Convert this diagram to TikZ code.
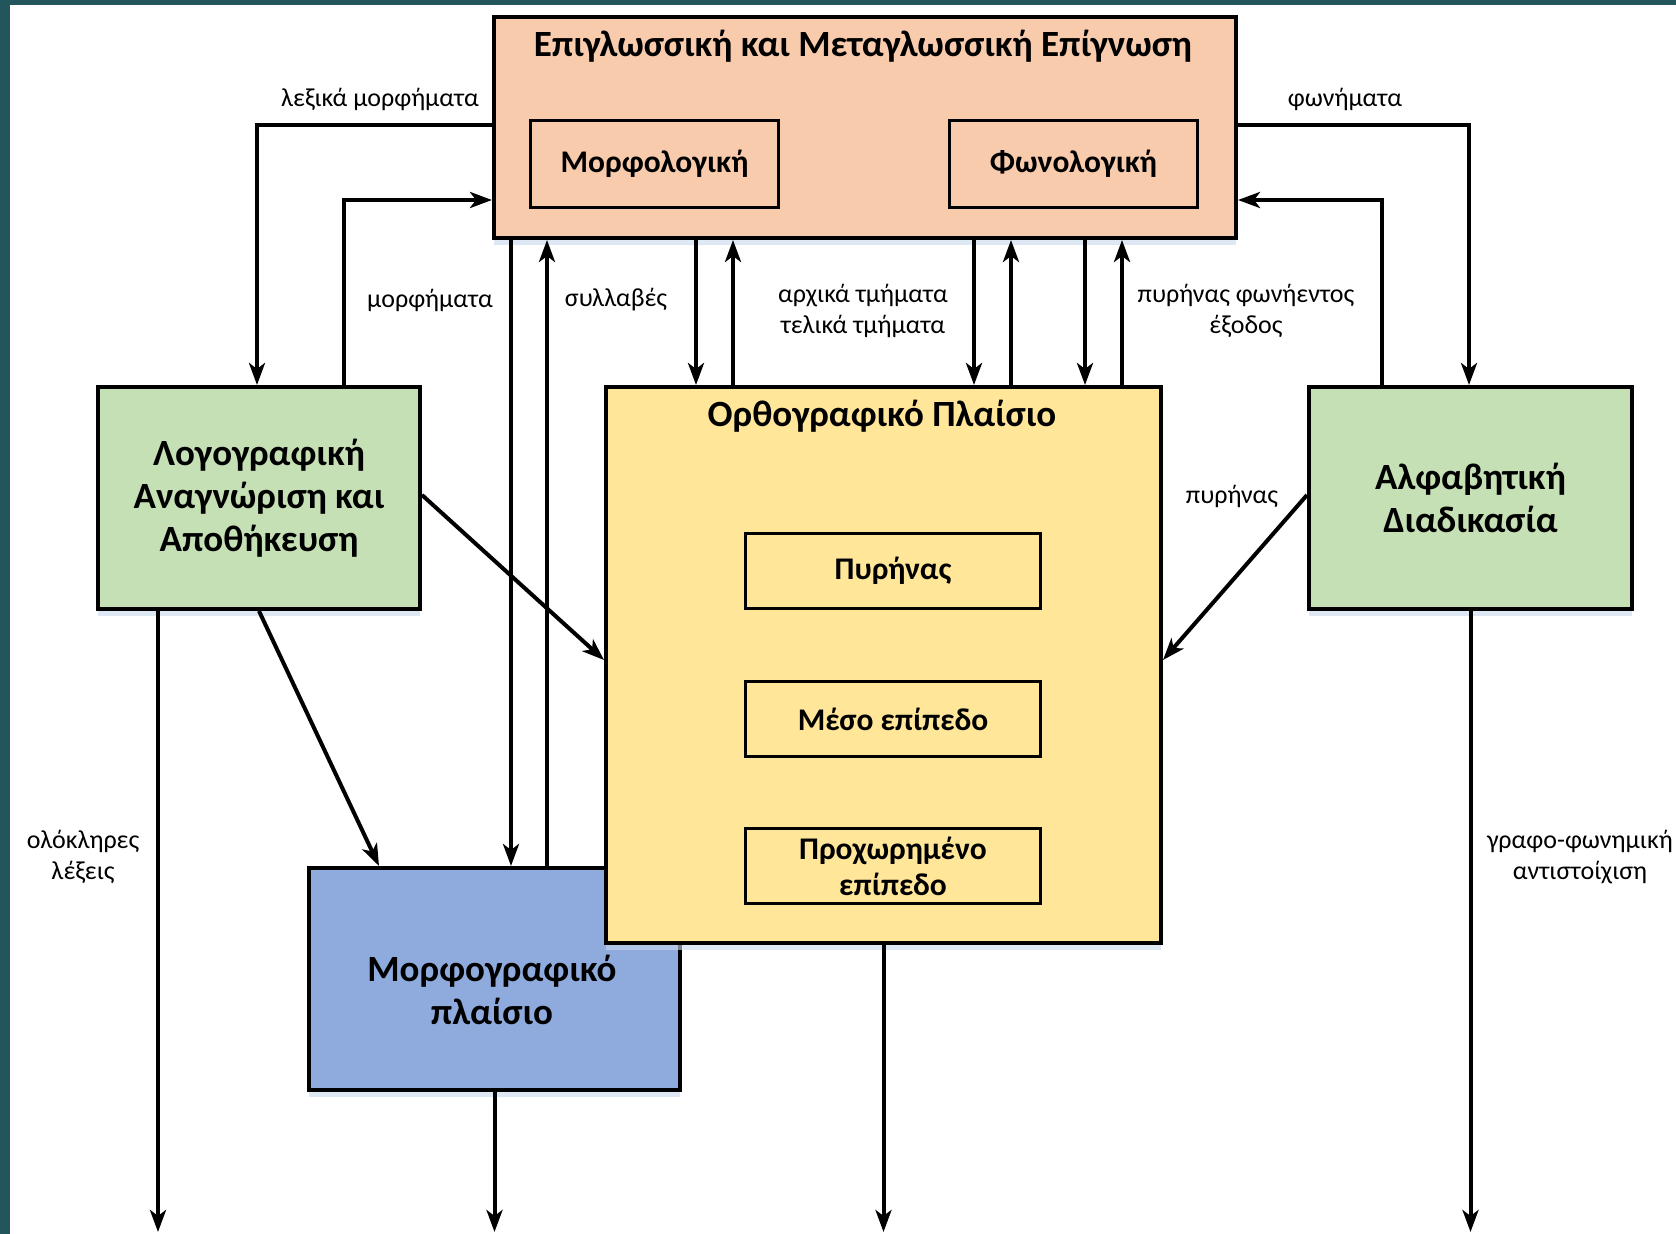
\documentclass[tikz,border=0pt]{standalone}
\usepackage{fontspec}
\setmainfont{Carlito}
\usetikzlibrary{arrows.meta,positioning,shadows,calc}
\definecolor{MyPeach}{HTML}{F8CBAD}
\definecolor{MyGreen}{HTML}{C5E0B4}
\definecolor{MyYellow}{HTML}{FFE699}
\definecolor{MyBlue}{HTML}{8FAADC}
\definecolor{MyTeal}{HTML}{22555C}
\definecolor{MyShade}{HTML}{C9DAEE}
\tikzset{%
  link/.style={-{Stealth[length=22pt,width=16pt,inset=6pt]},line width=4pt},
  frame/.style={rectangle, draw, line width=4pt, fill=#1, anchor=north west, align=center,
    inner sep=0pt, font=\fontsize{37}{43}\selectfont\bfseries,
    drop shadow={shadow xshift=0pt, shadow yshift=-7pt, opacity=0.6, fill=MyShade}},
  sub frame/.style={rectangle, draw, line width=3pt, fill=#1, anchor=north west, align=center,
    inner sep=0pt, minimum width=295pt, minimum height=75pt,
    font=\fontsize{31.5}{36}\selectfont\bfseries},
  title/.style={font=\fontsize{37}{43}\selectfont\bfseries, align=center},
  edge label/.style={font=\fontsize{26}{31}\selectfont, align=center}
}

\begin{document}
\begin{tikzpicture}[x=1pt, y=-1pt]

 \useasboundingbox (0,0) rectangle (1676,1234);
 \fill[white] (0,0) rectangle (1676,1234);
 \fill[MyTeal] (0,0) rectangle (10,1234);
 \fill[MyTeal] (0,0) rectangle (1676,5);

 % boxes
 \node[frame=MyPeach, minimum width=742pt, minimum height=221pt] (epi) at (492,15) {};
 \node[title] (epiT) at (863,46) {Επιγλωσσική και Μεταγλωσσική Επίγνωση};
 \node[sub frame=MyPeach, minimum width=248pt, minimum height=87pt] (morf) at (529,119) {Μορφολογική};
 \node[sub frame=MyPeach, minimum width=248pt, minimum height=87pt] (fon) at (948,119) {Φωνολογική};

 \node[frame=MyGreen, minimum width=322pt, minimum height=222pt] (logo) at (96,385)
   {Λογογραφική\\Αναγνώριση και\\Αποθήκευση};
 \node[frame=MyGreen, minimum width=323pt, minimum height=222pt] (alfa) at (1307,385)
   {Αλφαβητική\\Διαδικασία};
 \node[frame=MyBlue, minimum width=371pt, minimum height=222pt] (morfo) at (307,866) {};
 \node[title] (morfoT) at (492,990) {Μορφογραφικό\\πλαίσιο};

 \node[frame=MyYellow, minimum width=555pt, minimum height=556pt] (orth) at (604,385) {};
 \node[title] (orthT) at (882,416) {Ορθογραφικό Πλαίσιο};
 \node[sub frame=MyYellow] (pyr) at (744,532) {Πυρήνας};
 \node[sub frame=MyYellow, below=70pt of pyr] (meso) {Μέσο επίπεδο};
 \node[sub frame=MyYellow, below=69pt of meso] (proch) {Προχωρημένο\\επίπεδο};

 % left side
 \draw[link] ([yshift=-110pt]epi.north west) -| ([xshift=161pt]logo.north west);
 \draw[link] ([xshift=248pt]logo.north west) |- ([yshift=-185pt]epi.north west);
 \node[edge label] (lexL) at (380,99) {λεξικά μορφήματα};
 \node[edge label] (morL) at (430,300) {μορφήματα};

 \draw[link] ([xshift=19pt]epi.south west) -- ([xshift=204pt]morfo.north west);
 \draw[link] ([xshift=240pt]morfo.north west) -- ([xshift=55pt]epi.south west);
 \node[edge label] (sylL) at (616,300) {συλλαβές};

 % top box <-> orthographic frame
 \draw[link] ([xshift=204pt]epi.south west) -- ([xshift=92pt]orth.north west);
 \draw[link] ([xshift=129pt]orth.north west) -- ([xshift=241pt]epi.south west);
 \draw[link] ([xshift=482pt]epi.south west) -- ([xshift=370pt]orth.north west);
 \draw[link] ([xshift=407pt]orth.north west) -- ([xshift=519pt]epi.south west);
 \draw[link] ([xshift=593pt]epi.south west) -- ([xshift=481pt]orth.north west);
 \draw[link] ([xshift=518pt]orth.north west) -- ([xshift=630pt]epi.south west);
 \node[edge label] (tmL) at (863,311) {αρχικά τμήματα\\τελικά τμήματα};
 \node[edge label] (pfL) at (1246,311) {πυρήνας φωνήεντος\\έξοδος};

 % right side
 \draw[link] ([yshift=-110pt]epi.north east) -| ([xshift=162pt]alfa.north west);
 \draw[link] ([xshift=75pt]alfa.north west) |- ([yshift=-185pt]epi.north east);
 \node[edge label] (fonL) at (1345,99) {φωνήματα};

 % diagonals
 \draw[link] ([yshift=-110pt]logo.north east) -- ([yshift=-275pt]orth.north west);
 \draw[link] (logo.south) -- ([xshift=72pt]morfo.north west);
 \draw[link] ([yshift=-110pt]alfa.north west) -- ([yshift=-275pt]orth.north east);
 \node[edge label] (pyrL) at (1232,496) {πυρήνας};

 % outputs
 \coordinate (base) at (0,1232);
 \draw[link] ([xshift=62pt]logo.south west) -- ([xshift=62pt]logo.south west |- base);
 \draw[link] (morfo.south) -- (morfo.south |- base);
 \draw[link] (orth.south) -- (orth.south |- base);
 \draw[link] (alfa.south) -- (alfa.south |- base);
 \node[edge label] (lexW) at (83,857) {ολόκληρες\\λέξεις};
 \node[edge label] (grafL) at (1580,857) {γραφο-φωνημική\\αντιστοίχιση};

\end{tikzpicture}
\end{document}
